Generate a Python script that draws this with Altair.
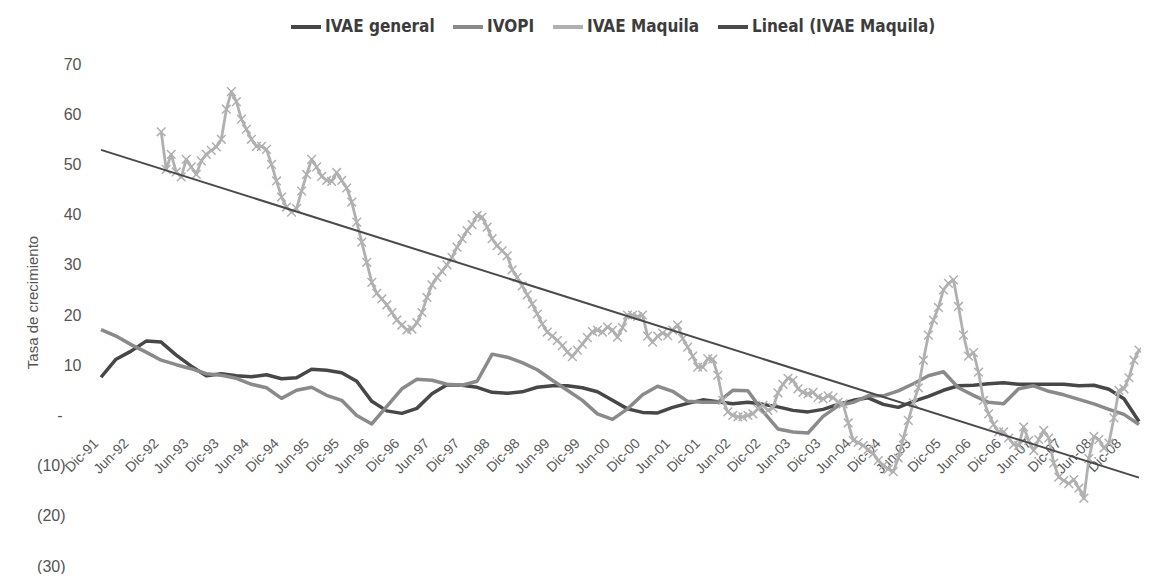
import altair as alt
import pandas as pd

# x position = months since Dic-91 (0 = Dic-91 ... 207 = Mar-09)
tick_months = list(range(0, 205, 6))

# IVAE general and IVOPI read every 3 months, starting Dic-91
quarter_step = 3
ivae_general = [7.6, 11.2, 12.8, 14.8, 14.6, 12.0, 9.8, 7.9, 8.3, 7.9,
                7.7, 8.1, 7.3, 7.5, 9.2, 9.0, 8.5, 6.8, 2.8, 0.9,
                0.4, 1.4, 4.3, 6.1, 6.0, 5.6, 4.6, 4.4, 4.7, 5.6,
                5.9, 5.9, 5.5, 4.7, 3.0, 1.3, 0.6, 0.5, 1.6, 2.4,
                3.1, 2.7, 2.3, 2.6, 2.2, 1.7, 1.0, 0.7, 1.2, 2.2,
                3.0, 3.5, 2.2, 1.6, 2.8, 3.8, 5.0, 5.9, 6.0, 6.3,
                6.5, 6.2, 6.2, 6.2, 6.2, 5.9, 6.0, 5.2, 3.3, -1.2]
ivopi = [17.1, 15.8, 14.1, 12.6, 11.0, 10.1, 9.3, 8.3, 8.0, 7.4,
         6.2, 5.5, 3.4, 5.0, 5.6, 4.0, 3.0, 0.0, -1.7, 1.8,
         5.3, 7.2, 7.0, 6.2, 6.0, 6.8, 12.2, 11.6, 10.5, 9.1,
         7.0, 5.0, 3.0, 0.3, -0.8, 1.3, 4.1, 5.8, 4.8, 2.8,
         2.6, 2.6, 5.0, 4.9, 0.8, -2.7, -3.3, -3.5, -0.2, 1.9,
         2.6, 3.9, 3.9, 4.9, 6.3, 7.9, 8.7, 5.5, 4.0, 2.6,
         2.3, 5.3, 5.9, 4.8, 4.1, 3.2, 2.3, 1.2, 0.2, -1.8]

# IVAE Maquila, monthly from Dic-92 (month 12) to Mar-09
maquila_start = 12
ivae_maquila = [
    56.5, 49.0, 52.0, 48.5, 47.5, 51.0, 49.5, 48.0, 50.7, 52.0, 52.8, 53.5,
    55.0, 61.0, 64.5, 62.5, 59.0, 57.0, 55.0, 53.6, 53.6, 53.0, 50.0, 46.7,
    43.5, 41.5, 40.5, 41.2, 44.7, 48.0, 51.0, 49.5, 47.6, 46.8, 46.6, 48.4,
    46.8, 45.3, 42.5, 38.5, 34.5, 30.5, 26.5, 24.3, 23.2, 22.0, 20.5, 19.0,
    18.0, 17.0, 17.2, 18.5, 20.5, 23.5, 26.0, 27.5, 28.7, 30.0, 31.5, 33.5,
    35.2, 36.8, 38.0, 39.8, 39.5, 37.5, 35.2, 33.8, 32.8, 31.8, 29.0, 27.5,
    25.8, 24.0, 22.2, 20.2, 18.2, 16.6, 15.8, 14.9, 13.9, 12.6, 11.7, 13.0,
    14.2, 15.5, 16.7, 17.0, 16.6, 17.6, 17.0, 15.6, 17.5, 20.0, 20.0, 19.7,
    20.0, 15.8, 14.6, 15.8, 16.4, 15.9, 17.0, 18.0, 15.3, 13.6, 11.8, 9.6,
    9.6, 11.3, 11.2, 8.0, 3.0, 0.7, 0.0, -0.3, -0.3, 0.0, 0.3, 1.3,
    2.0, 1.0, 1.5, 4.5, 6.2, 7.4, 7.0, 5.3, 4.6, 4.3, 4.6, 3.6,
    3.3, 3.9, 3.6, 2.6, 2.3, -1.5, -5.0, -5.4, -6.0, -6.8, -7.6, -9.0,
    -10.0, -10.7, -11.2, -8.5, -4.5, -1.0, 2.5, 5.5, 11.0, 16.0, 19.0, 21.5,
    25.0, 26.3, 27.0, 21.7, 16.0, 11.8, 12.5, 8.6, 3.0, 0.3, -1.8, -3.3,
    -3.3, -4.5, -5.8, -6.0, -2.3, -5.0, -7.0, -4.8, -3.0, -4.5, -9.5, -12.3,
    -13.0, -13.6, -12.8, -14.5, -16.5, -8.6, -4.2, -4.8, -6.5, -5.5, -0.5, 5.0,
    5.3, 7.5, 11.0, 13.0,
]

# Lineal (IVAE Maquila): value at Dic-91 and at Mar-09
trend_months = [0, 207]
trend_values = [52.9, -12.4]

series_names = ["IVAE general", "IVOPI", "IVAE Maquila", "Lineal (IVAE Maquila)"]
series_colors = ["#474747", "#8a8a8a", "#b0b0b0", "#4a4a4a"]

rows = []
for i, v in enumerate(ivae_general):
    rows.append({"m": i * quarter_step, "v": v, "serie": series_names[0]})
for i, v in enumerate(ivopi):
    rows.append({"m": i * quarter_step, "v": v, "serie": series_names[1]})
df_smooth = pd.DataFrame(rows)
df_maq = pd.DataFrame({"m": [maquila_start + i for i in range(len(ivae_maquila))],
                       "v": ivae_maquila, "serie": series_names[2]})
df_trend = pd.DataFrame({"m": trend_months, "v": trend_values, "serie": series_names[3]})

FONT = "Liberation Sans, Arial, sans-serif"
H = 502
zero_px = H * 70 / 100.0

x_enc = alt.X(
    "m:Q",
    scale=alt.Scale(domain=[0, 207], nice=False, zero=False),
    axis=alt.Axis(
        values=tick_months,
        labelExpr="(datum.value % 12 == 0 ? 'Dic-' : 'Jun-') + slice('0' + ((91 + ceil(datum.value / 12)) % 100), -2)",
        labelAngle=-45, labelAlign="right", labelBaseline="middle",
        labelPadding=26, labelOffset=-5, labelFontSize=14, labelColor="#5a5a5a",
        labelFont=FONT, labelOverlap=False, labelFlush=False, labelBound=False,
        offset=-round(H - zero_px), domain=False, ticks=False, grid=False, title=None,
    ),
)
y_enc = alt.Y(
    "v:Q",
    scale=alt.Scale(domain=[-30, 70], nice=False, zero=False),
    axis=alt.Axis(
        values=list(range(-30, 71, 10)),
        labelExpr="datum.value > 0 ? '' + datum.value : (datum.value < 0 ? '(' + abs(datum.value) + ')' : '-')",
        labelFontSize=16, labelColor="#555555", labelFont=FONT,
        labelPadding={"condition": [{"test": "datum.value == 0", "value": 39},
                                    {"test": "datum.value > 0", "value": 20}],
                      "value": 36},
        domain=False, ticks=False, grid=False,
        title="Tasa de crecimiento", titleFont=FONT, titleFontSize=15,
        titleFontWeight="normal", titleColor="#555555",
        titleX=-61, titleY=238, titleAlign="center", titleAngle=270, titleBaseline="bottom",
    ),
)
color_enc = alt.Color(
    "serie:N",
    scale=alt.Scale(domain=series_names, range=series_colors),
    legend=alt.Legend(
        title=None, orient="none", legendX=188, legendY=-54, direction="horizontal",
        symbolType="stroke", symbolStrokeWidth=4, symbolSize=900,
        labelFont="Liberation Sans Narrow, DejaVu Sans Condensed, Liberation Sans",
        labelFontWeight="bold", labelFontSize=17, labelColor="#3c3c3c",
        labelOffset=2, columnPadding=10, labelLimit=400,
    ),
)

smooth = alt.Chart(df_smooth).mark_line(strokeWidth=3.5, strokeJoin="round").encode(
    x=x_enc, y=y_enc, color=color_enc, detail="serie:N")
maq_line = alt.Chart(df_maq).mark_line(strokeWidth=2.8, strokeJoin="round").encode(
    x=x_enc, y=y_enc, color=color_enc)
maq_pts = alt.Chart(df_maq).mark_point(
    shape="M-1,-1L1,1M-1,1L1,-1", filled=False, size=75, strokeWidth=1.5, opacity=1
).encode(x=x_enc, y=y_enc, color=color_enc)
trend = alt.Chart(df_trend).mark_line(strokeWidth=2).encode(x=x_enc, y=y_enc, color=color_enc)

chart = alt.layer(smooth, maq_line, maq_pts, trend).properties(
    width=1038, height=H,
    autosize=alt.AutoSizeParams(type="none"),
    padding={"left": 93, "top": 56, "right": 2, "bottom": 8},
    background="white",
).configure_view(stroke=None)

chart.save("out.html", embed_options={"renderer": "svg", "actions": False})
